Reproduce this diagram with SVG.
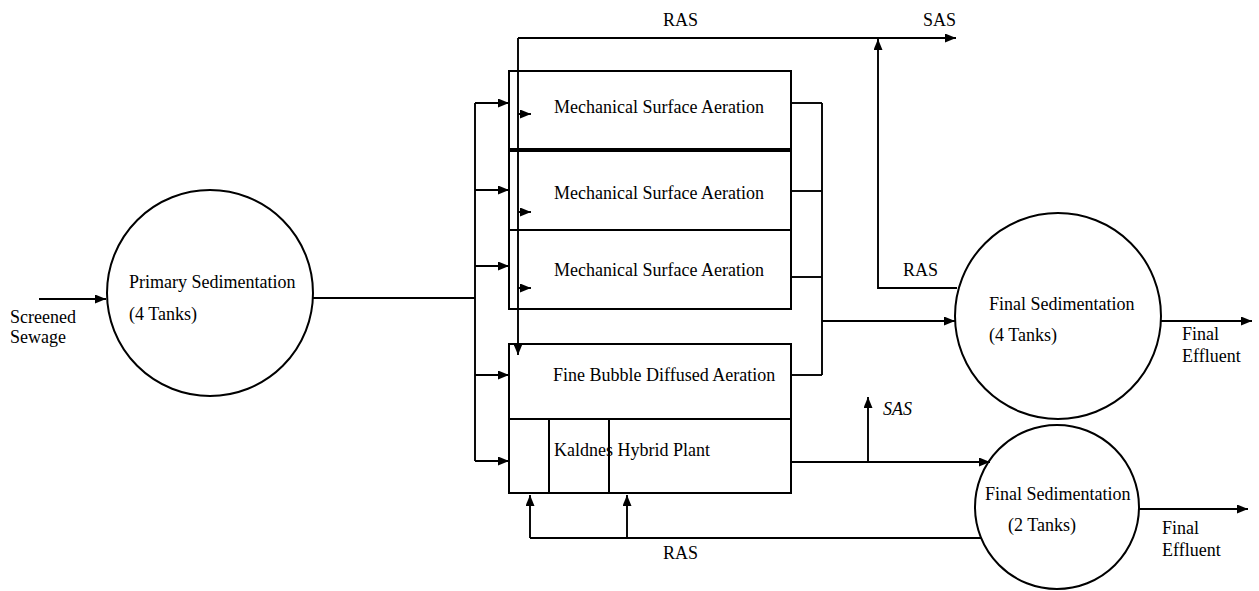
<svg xmlns="http://www.w3.org/2000/svg" width="1259" height="591" viewBox="0 0 1259 591">
<defs>
<marker id="ah" viewBox="0 0 11 9" refX="11" refY="4.5" markerWidth="11" markerHeight="9" markerUnits="userSpaceOnUse" orient="auto">
<path d="M0,0 L11,4.5 L0,9 z" fill="#000"/>
</marker>
<style>
.s{fill:none;stroke:#000;stroke-width:2}
.c{fill:none;stroke:#000;stroke-width:1.9}
.a{marker-end:url(#ah)}
text{font-family:"Liberation Serif","Times New Roman",serif;font-size:18px;fill:#000}
.i{font-style:italic}
</style>
</defs>
<rect width="1259" height="591" fill="#fff"/>

<g id="connectors">
<line class="c a" x1="39" y1="299" x2="106" y2="299"/>
<line class="c" x1="313" y1="298" x2="475" y2="298"/>
<line class="c" x1="475" y1="103" x2="475" y2="461"/>
<line class="c a" x1="475" y1="103" x2="509" y2="103"/>
<line class="c a" x1="475" y1="190" x2="509" y2="190"/>
<line class="c a" x1="475" y1="266" x2="509" y2="266"/>
<line class="c a" x1="475" y1="375" x2="509" y2="375"/>
<line class="c a" x1="475" y1="461" x2="509" y2="461"/>
<line class="c" x1="518" y1="38" x2="878" y2="38"/>
<line class="c a" x1="878" y1="38" x2="956" y2="38"/>
<line class="c a" x1="518" y1="38" x2="518" y2="355"/>
<line class="c a" x1="518" y1="114" x2="531" y2="114"/>
<line class="c a" x1="518" y1="212" x2="531" y2="212"/>
<line class="c a" x1="518" y1="288" x2="531" y2="288"/>
<polyline class="c a" points="957,288 878,288 878,39"/>
<line class="c" x1="791" y1="103" x2="822" y2="103"/>
<line class="c" x1="791" y1="191" x2="822" y2="191"/>
<line class="c" x1="791" y1="277" x2="822" y2="277"/>
<line class="c" x1="791" y1="375" x2="822" y2="375"/>
<line class="c" x1="822" y1="103" x2="822" y2="375"/>
<line class="c a" x1="822" y1="321" x2="955" y2="321"/>
<line class="c a" x1="791" y1="462" x2="990" y2="462"/>
<line class="c a" x1="868" y1="462" x2="868" y2="397"/>
<polyline class="c" points="981,538 530,538"/>
<line class="c a" x1="530" y1="538" x2="530" y2="495"/>
<line class="c a" x1="627" y1="538" x2="627" y2="495"/>
<line class="c a" x1="1161" y1="321" x2="1252" y2="321"/>
<line class="c a" x1="1139" y1="509" x2="1248" y2="509"/>
</g>

<g id="label-screened">
<text x="10" y="323">Screened</text>
<text x="10" y="343">Sewage</text>
</g>

<g id="primary-sedimentation">
<circle class="s" cx="210" cy="293" r="103"/>
<text x="129" y="288">Primary Sedimentation</text>
<text x="129" y="320">(4 Tanks)</text>
</g>

<g id="msa-1">
<rect class="s" x="509" y="71" width="282" height="78"/>
<text x="554" y="113">Mechanical Surface Aeration</text>
</g>
<g id="msa-2">
<rect class="s" x="509" y="151" width="282" height="79"/>
<text x="554" y="199">Mechanical Surface Aeration</text>
</g>
<g id="msa-3">
<rect class="s" x="509" y="230" width="282" height="79"/>
<text x="554" y="276">Mechanical Surface Aeration</text>
</g>

<g id="fine-bubble">
<rect class="s" x="509" y="344" width="282" height="75"/>
<text x="553" y="381">Fine Bubble Diffused Aeration</text>
</g>

<g id="kaldnes">
<rect class="s" x="509" y="419" width="282" height="74"/>
<line class="s" x1="549" y1="419" x2="549" y2="493"/>
<line class="s" x1="609" y1="419" x2="609" y2="493"/>
<text x="554" y="456">Kaldnes Hybrid Plant</text>
</g>

<g id="final-sed-4">
<circle class="s" cx="1058" cy="316" r="103"/>
<text x="989" y="310">Final Sedimentation</text>
<text x="989" y="341">(4 Tanks)</text>
</g>

<g id="final-sed-2">
<circle class="s" cx="1057" cy="507" r="82"/>
<text x="985" y="500">Final Sedimentation</text>
<text x="1008" y="531">(2 Tanks)</text>
</g>

<g id="labels">
<text x="663" y="26">RAS</text>
<text x="923" y="26">SAS</text>
<text x="903" y="276">RAS</text>
<text class="i" x="883" y="415">SAS</text>
<text x="663" y="559">RAS</text>
<text x="1182" y="340">Final</text>
<text x="1182" y="362">Effluent</text>
<text x="1162" y="534">Final</text>
<text x="1162" y="556">Effluent</text>
</g>
</svg>
